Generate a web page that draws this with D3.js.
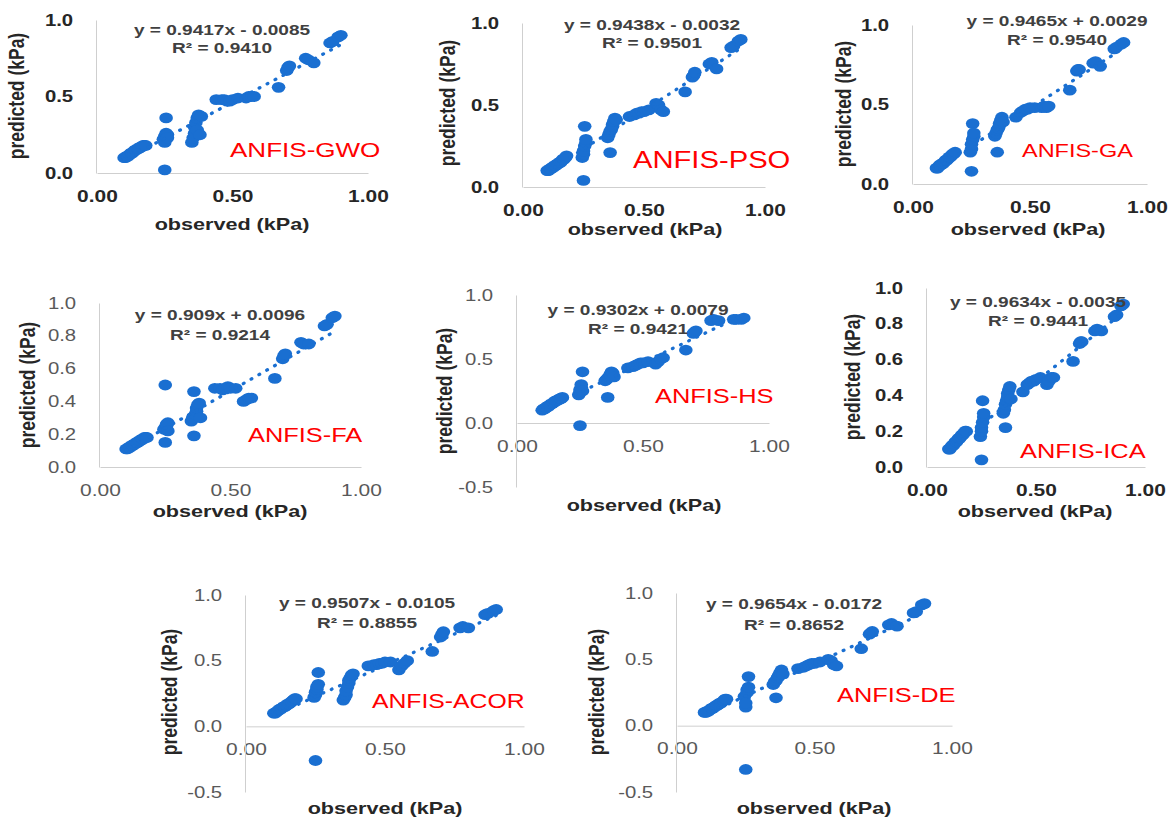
<!DOCTYPE html>
<html>
<head>
<meta charset="utf-8">
<script src="https://cdn.jsdelivr.net/npm/d3@7/dist/d3.min.js"></script>
<style>
  body { margin: 0; background: #fff; }
  svg text { font-family: "Liberation Sans", Arial, sans-serif; }
</style>
</head>
<body>
<svg id="chart" width="1169" height="821"></svg>
<script>
// ---- data ----
const models = ['ANFIS-GWO', 'ANFIS-PSO', 'ANFIS-GA', 'ANFIS-FA', 'ANFIS-HS', 'ANFIS-ICA', 'ANFIS-ACOR', 'ANFIS-DE'];
const slopes = [0.9417, 0.9438, 0.9465, 0.909, 0.9302, 0.9634, 0.9507, 0.9654];
const intercepts = [-0.0085, -0.0032, 0.0029, 0.0096, 0.0079, -0.0035, -0.0105, -0.0172];
const eqLabels = ['y = 0.9417x - 0.0085', 'y = 0.9438x - 0.0032', 'y = 0.9465x + 0.0029', 'y = 0.909x + 0.0096',
                  'y = 0.9302x + 0.0079', 'y = 0.9634x - 0.0035', 'y = 0.9507x - 0.0105', 'y = 0.9654x - 0.0172'];
const r2Labels = ['R² = 0.9410', 'R² = 0.9501', 'R² = 0.9540', 'R² = 0.9214', 'R² = 0.9421', 'R² = 0.9441', 'R² = 0.8855', 'R² = 0.8652'];

const xTicks = [0, 0.5, 1];
const yTicksHalf = [0, 0.5, 1];
const yTicksFifth = [0, 0.2, 0.4, 0.6, 0.8, 1];
const yTicksNeg = [-0.5, 0, 0.5, 1];

// observed (kPa), same for every model
const observed = [
  0.10, 0.105, 0.11, 0.115, 0.12, 0.125, 0.13, 0.135, 0.14, 0.145, 0.15, 0.155, 0.16, 0.165, 0.17, 0.175, 0.18,
  0.245, 0.25, 0.25, 0.25, 0.255, 0.255, 0.26, 0.26,
  0.35, 0.355, 0.36, 0.36, 0.365, 0.37, 0.37, 0.375, 0.38, 0.385,
  0.44, 0.46, 0.47, 0.48, 0.49, 0.50, 0.52,
  0.55, 0.56, 0.57, 0.58,
  0.67,
  0.70, 0.705, 0.71,
  0.77, 0.78, 0.80,
  0.86, 0.87,
  0.89, 0.90
];

const predGWO = [
  0.10, 0.10, 0.11, 0.11, 0.12, 0.13, 0.13, 0.14, 0.15, 0.15, 0.16, 0.16, 0.17, 0.17, 0.18, 0.18, 0.18,
  0.22, 0.02, 0.20, 0.24, 0.26, 0.36, 0.25, 0.23,
  0.20, 0.23, 0.26, 0.30, 0.33, 0.28, 0.36, 0.38, 0.25, 0.37,
  0.48, 0.48, 0.48, 0.47, 0.47, 0.48, 0.49,
  0.49, 0.50, 0.50, 0.50,
  0.56,
  0.67, 0.69, 0.70,
  0.75, 0.74, 0.72,
  0.85, 0.86,
  0.89, 0.90
];
const predPSO = [
  0.10, 0.10, 0.11, 0.11, 0.12, 0.12, 0.13, 0.13, 0.14, 0.14, 0.15, 0.15, 0.16, 0.17, 0.17, 0.18, 0.19,
  0.18, 0.04, 0.20, 0.22, 0.25, 0.37, 0.27, 0.29,
  0.30, 0.32, 0.21, 0.34, 0.35, 0.37, 0.38, 0.40, 0.42, 0.41,
  0.43, 0.44, 0.45, 0.45, 0.46, 0.46, 0.47,
  0.51, 0.50, 0.47, 0.46,
  0.58,
  0.67, 0.68, 0.70,
  0.75, 0.76, 0.72,
  0.85, 0.86,
  0.89, 0.90
];
const predGA = [
  0.10, 0.10, 0.11, 0.12, 0.12, 0.13, 0.13, 0.14, 0.15, 0.15, 0.16, 0.17, 0.17, 0.18, 0.19, 0.19, 0.20,
  0.20, 0.08, 0.22, 0.25, 0.28, 0.38, 0.30, 0.32,
  0.30, 0.32, 0.20, 0.34, 0.35, 0.37, 0.38, 0.40, 0.42, 0.39,
  0.42, 0.45, 0.46, 0.47, 0.47, 0.48, 0.48,
  0.48, 0.49, 0.48, 0.49,
  0.59,
  0.71, 0.72, 0.72,
  0.76, 0.77, 0.74,
  0.85, 0.86,
  0.88, 0.89
];
const predFA = [
  0.11, 0.11, 0.12, 0.12, 0.13, 0.13, 0.14, 0.14, 0.15, 0.15, 0.16, 0.16, 0.17, 0.17, 0.18, 0.18, 0.18,
  0.23, 0.50, 0.15, 0.24, 0.25, 0.26, 0.27, 0.22,
  0.28, 0.30, 0.46, 0.19, 0.32, 0.34, 0.36, 0.38, 0.39, 0.30,
  0.48, 0.48, 0.47, 0.48, 0.49, 0.48, 0.48,
  0.40, 0.41, 0.42, 0.42,
  0.54,
  0.66, 0.68, 0.69,
  0.76, 0.75, 0.75,
  0.86, 0.87,
  0.91, 0.92
];
const predHS = [
  0.10, 0.11, 0.11, 0.12, 0.13, 0.13, 0.14, 0.15, 0.15, 0.16, 0.17, 0.17, 0.18, 0.18, 0.19, 0.19, 0.20,
  0.22, -0.02, 0.24, 0.26, 0.28, 0.30, 0.40, 0.25,
  0.33, 0.34, 0.20, 0.35, 0.36, 0.37, 0.38, 0.40, 0.39, 0.36,
  0.43, 0.44, 0.45, 0.46, 0.47, 0.47, 0.48,
  0.46, 0.48, 0.50, 0.51,
  0.57,
  0.70, 0.71, 0.72,
  0.80, 0.81, 0.80,
  0.81, 0.81,
  0.81, 0.82
];
const predICA = [
  0.10, 0.10, 0.11, 0.12, 0.12, 0.13, 0.14, 0.14, 0.15, 0.16, 0.16, 0.17, 0.18, 0.18, 0.19, 0.20, 0.20,
  0.17, 0.04, 0.20, 0.22, 0.25, 0.37, 0.28, 0.30,
  0.30, 0.32, 0.22, 0.35, 0.37, 0.39, 0.41, 0.43, 0.45, 0.38,
  0.42, 0.46, 0.47, 0.48, 0.48, 0.49, 0.50,
  0.46, 0.48, 0.50, 0.50,
  0.59,
  0.69, 0.70, 0.70,
  0.76, 0.77, 0.76,
  0.84, 0.85,
  0.90, 0.91
];
const predACOR = [
  0.10, 0.10, 0.11, 0.12, 0.13, 0.13, 0.14, 0.15, 0.15, 0.16, 0.17, 0.17, 0.18, 0.19, 0.20, 0.21, 0.21,
  0.22, -0.26, 0.24, 0.26, 0.28, 0.30, 0.41, 0.32,
  0.20, 0.22, 0.24, 0.27, 0.30, 0.33, 0.35, 0.37, 0.39, 0.40,
  0.46, 0.47, 0.47, 0.48, 0.48, 0.49, 0.49,
  0.43, 0.46, 0.48, 0.50,
  0.57,
  0.68, 0.70, 0.72,
  0.75, 0.76, 0.75,
  0.85, 0.86,
  0.88, 0.89
];
const predDE = [
  0.10, 0.10, 0.11, 0.11, 0.12, 0.13, 0.13, 0.14, 0.15, 0.15, 0.16, 0.17, 0.17, 0.18, 0.19, 0.20, 0.20,
  0.22, -0.33, 0.14, 0.17, 0.25, 0.27, 0.37, 0.29,
  0.31, 0.33, 0.21, 0.34, 0.36, 0.37, 0.38, 0.40, 0.42, 0.39,
  0.43, 0.44, 0.45, 0.46, 0.47, 0.47, 0.48,
  0.50, 0.49, 0.46, 0.45,
  0.58,
  0.69, 0.70, 0.71,
  0.76, 0.77, 0.75,
  0.85, 0.86,
  0.91, 0.92
];
const predictedSets = [predGWO, predPSO, predGA, predFA, predHS, predICA, predACOR, predDE];
const yTickSets = [yTicksHalf, yTicksHalf, yTicksHalf, yTicksFifth, yTicksNeg, yTicksFifth, yTicksNeg, yTicksNeg];

// ---- layout of each small chart (pixels) ----
const layout = [
  { xr: [97, 368],  yd: [0, 1],    yr: [173, 20],  bold: true,  yLab: [16, 96],   xLab: [232, 224],  eq: [222, 30],   r2: [222, 48],   name: [230, 157, 20.5] },
  { xr: [523, 765], yd: [0, 1],    yr: [187, 23],  bold: true,  yLab: [447, 103], xLab: [645, 229],  eq: [652, 25],   r2: [652, 43],   name: [633, 167, 23] },
  { xr: [913, 1147],yd: [0, 1],    yr: [184, 25],  bold: true,  yLab: [843, 104], xLab: [1028, 229], eq: [1057, 21],  r2: [1057, 40],  name: [1022, 158, 18.5] },
  { xr: [100, 361], yd: [0, 1],    yr: [467, 303], bold: false, yLab: [27, 385],  xLab: [230, 511],  eq: [220, 315],  r2: [220, 335],  name: [248, 442, 20] },
  { xr: [517, 769], yd: [-0.5, 1], yr: [487, 295], bold: false, yLab: [444, 391], xLab: [644, 505],  eq: [638, 310],  r2: [638, 329],  name: [655, 403, 20] },
  { xr: [927, 1145],yd: [0, 1],    yr: [467, 288], bold: true,  yLab: [852, 377], xLab: [1035, 511], eq: [1038, 302], r2: [1038, 321], name: [1020, 458, 20] },
  { xr: [246, 524], yd: [-0.5, 1], yr: [792, 595], bold: false, yLab: [169, 692], xLab: [385, 808],  eq: [367, 603],  r2: [367, 623],  name: [372, 708, 19.5] },
  { xr: [677, 952], yd: [-0.5, 1], yr: [792, 593], bold: false, yLab: [596, 692], xLab: [814, 808],  eq: [794, 604],  r2: [794, 625],  name: [837, 702, 20] }
];

const SX = 1.27;          // the original figure is stretched horizontally
const BLUE = '#1a6fd1';
const AXIS = '#cfcfcf';

const svg = d3.select('#chart');

const stretched = (g, x, y, str, size, weight, fill, anchor) => g.append('text')
  .attr('transform', `translate(${x},${y}) scale(${SX},1)`)
  .attr('text-anchor', anchor || 'middle')
  .attr('dy', '0.35em')
  .attr('font-size', size)
  .attr('font-weight', weight)
  .attr('fill', fill)
  .text(str);

layout.forEach((L, i) => {
  const g = svg.append('g');
  const x = d3.scaleLinear().domain([0, 1]).range(L.xr);
  const y = d3.scaleLinear().domain(L.yd).range(L.yr);
  const tickWeight = L.bold ? 'bold' : 'normal';
  const tickFill = L.bold ? '#262626' : '#595959';

  const xAxis = g.append('g')
    .attr('transform', `translate(0,${y(0)})`)
    .call(d3.axisBottom(x).tickValues(xTicks).tickFormat(d => d.toFixed(2)).tickSize(0).tickPadding(17))
    .attr('font-family', null).attr('font-size', 16.5);
  xAxis.select('.domain').attr('stroke', AXIS);
  xAxis.selectAll('text').attr('font-weight', tickWeight).attr('fill', tickFill)
    .attr('transform', `scale(${SX},1)`);

  const yAxis = g.append('g')
    .attr('transform', `translate(${x(0) - 1},0)`)
    .call(d3.axisLeft(y).tickValues(yTickSets[i]).tickFormat(d => d.toFixed(1)).tickSize(0).tickPadding(18))
    .attr('font-family', null).attr('font-size', 16);
  yAxis.select('.domain').attr('stroke', AXIS);
  yAxis.selectAll('text').attr('font-weight', tickWeight).attr('fill', tickFill)
    .attr('transform', `scale(${SX},1)`);

  // points
  const pred = predictedSets[i];
  g.append('g').selectAll('ellipse')
    .data(observed.map((o, k) => ({ o, p: pred[k] })))
    .enter()
    .append('ellipse')
    .attr('cx', d => x(d.o))
    .attr('cy', d => y(d.p))
    .attr('rx', 6.8)
    .attr('ry', 5.4)
    .attr('fill', BLUE);

  // linear trendline
  const [x0, x1] = d3.extent(observed);
  g.append('line')
    .attr('x1', x(x0)).attr('y1', y(slopes[i] * x0 + intercepts[i]))
    .attr('x2', x(x1)).attr('y2', y(slopes[i] * x1 + intercepts[i]))
    .attr('stroke', BLUE)
    .attr('stroke-width', 3.3)
    .attr('stroke-linecap', 'round')
    .attr('stroke-dasharray', '0.8 8.2');

  stretched(g, L.eq[0], L.eq[1], eqLabels[i], 15, 'bold', '#404040');
  stretched(g, L.r2[0], L.r2[1], r2Labels[i], 15, 'bold', '#404040');
  stretched(g, L.name[0], L.name[1] - 7, models[i], L.name[2], 'normal', '#ff0000', 'start');
  stretched(g, L.xLab[0], L.xLab[1], 'observed (kPa)', 17, 'bold', '#262626');

  g.append('text')
    .attr('transform', `translate(${L.yLab[0]},${L.yLab[1]}) rotate(-90) scale(1,1.25)`)
    .attr('text-anchor', 'middle')
    .attr('dy', '0.35em')
    .attr('font-size', 17.5)
    .attr('font-weight', 'bold')
    .attr('fill', '#262626')
    .text('predicted (kPa)');
});
</script>
</body>
</html>
